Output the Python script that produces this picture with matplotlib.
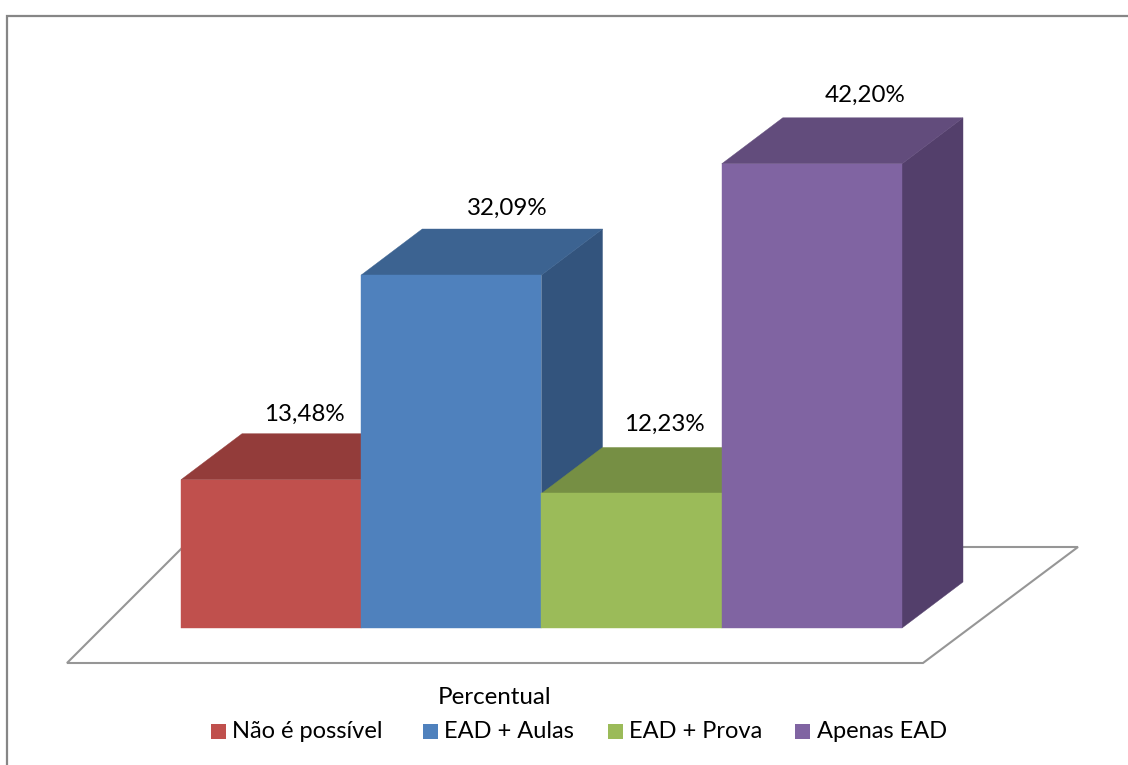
import matplotlib
matplotlib.use("Agg")
import matplotlib.pyplot as plt
from matplotlib.patches import Polygon, Rectangle

categories = ["Não é possível", "EAD + Aulas", "EAD + Prova", "Apenas EAD"]
values = [13.48, 32.09, 12.23, 42.20]
labels = ["13,48%", "32,09%", "12,23%", "42,20%"]
front = ["#C0504D", "#4F81BD", "#9BBB59", "#8064A2"]
top = ["#933C3A", "#3C6391", "#768F44", "#624C7C"]
side = ["#7F3532", "#33547D", "#667C3B", "#533F6B"]

W, H = 1128, 765
BAR_W = 180.25   # px per category
UNIT = 11.0      # px per percent
X0, Y0 = 181, 628
DX = 61 / BAR_W  # depth of the 3d box, in data units
DY = 46 / UNIT
FS = 17.4
FS_LEG = 17.0

plt.rcParams["font.family"] = ["Lato", "DejaVu Sans"]

fig = plt.figure(figsize=(W / 100, H / 100), dpi=100, facecolor="white")
ax = fig.add_axes([0, 0, 1, 1])
ax.set_xlim(-0.5 - X0 / BAR_W, -0.5 + (W - X0) / BAR_W)
ax.set_ylim(-(H - Y0) / UNIT, Y0 / UNIT)
ax.axis("off")


def px(x, y):
    # pixel position in the picture -> data coordinates
    return (-0.5 + (x - X0) / BAR_W, (Y0 - y) / UNIT)


# chart border, only top and left are inside the picture
bx, by = zip(px(6.5, 770), px(6.5, 16), px(1130, 16))
ax.plot(bx, by, color="#868686", lw=1.6, zorder=1, solid_joinstyle="miter")

# floor
ax.add_patch(Polygon([px(67, 663), px(183, 547), px(1078, 547), px(923, 663)], closed=True,
                     fc="white", ec="#969696", lw=1.5, zorder=2))

# left to right, each bar covers the side of the one before
label_px = [(304, 414), (507, 208), (664, 424), (865, 95)]
for i, v in enumerate(values):
    l, r = i - 0.5, i + 0.5
    z = 3 + i * 0.1
    ax.add_patch(Polygon([(r, 0), (r + DX, DY), (r + DX, v + DY), (r, v)], closed=True,
                         fc=side[i], ec=side[i], lw=0.3, zorder=z))
    ax.add_patch(Polygon([(l, v), (l + DX, v + DY), (r + DX, v + DY), (r, v)], closed=True,
                         fc=top[i], ec=top[i], lw=0.3, zorder=z))
    ax.bar(i, v, width=1.0, color=front[i], ec=front[i], lw=0.3, zorder=z + 0.05)
    x, y = px(*label_px[i])
    ax.text(x, y, labels[i], ha="center", va="center", fontsize=FS, color="black", zorder=6)

# axis title and legend
x, y = px(495, 697)
ax.text(x, y, "Percentual", ha="center", va="center", fontsize=FS, color="black")
sw = [211, 423, 608, 795]
tx = [232, 444, 629, 817]
for i, c in enumerate(categories):
    x, y = px(sw[i], 739)
    ax.add_patch(Rectangle((x, y), 15 / BAR_W, 15 / UNIT, fc=front[i], ec="none"))
    x, y = px(tx[i], 731)
    ax.text(x, y, c, ha="left", va="center", fontsize=FS_LEG, color="black")

fig.savefig("out.png", dpi=100)
